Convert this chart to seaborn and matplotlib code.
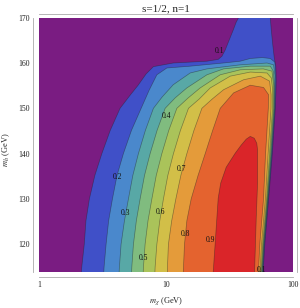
import numpy as np
import pandas as pd
import matplotlib
matplotlib.use("Agg")
import matplotlib.pyplot as plt
import seaborn as sns
from matplotlib.ticker import FixedLocator, FixedFormatter, NullFormatter

# ---------------- data ----------------
levels = [0.1, 0.2, 0.3, 0.4, 0.5, 0.6, 0.7, 0.8, 0.9]
band_colors = ["#7a1c82", "#4050c8", "#4a88cc", "#58a8a6", "#80bc7f",
               "#aac35a", "#d2bf48", "#e49b3a", "#e4632f", "#da2529"]

# contour lines: (m_chi [GeV], m_h [GeV]) along each iso-line
c01_mx = [2.14, 2.17, 2.27, 2.34, 2.49, 2.75, 3.12, 3.63, 4.34, 5.21, 6.02, 6.96, 7.94,
          11.36, 20.92, 25.67, 27.46, 29.15, 31.34, 33.7, 35.58, 37.1, 37.6, 66.0,
          65.9, 67.1, 68.95, 70.86, 72.8, 73.5, 72.2, 68.4, 64.0, 59.7, 57.7]
c01_mh = [113, 115, 120, 125.2, 130, 135.2, 140, 145.1, 150, 152.9, 155.1, 157.6, 159.2,
          160.0, 160.4, 160.8, 161.5, 162.9, 165.1, 167.3, 169.05, 170.0, 172, 172,
          170, 167.3, 164.0, 161.1, 159.3, 156.2, 150, 140, 130, 120, 113]

c02_mx = [3.22, 3.25, 3.37, 3.53, 3.78, 4.11, 4.61, 5.33, 6.36, 7.35, 8.45, 10.13, 15.45,
          28.11, 38.25, 45.86, 57.0, 65.9, 71.5, 72.6, 71.7, 67.9, 63.6, 59.3, 57.3]
c02_mh = [113, 115, 120, 125.2, 130, 135.2, 140, 145.1, 150, 154.0, 157.4, 158.9, 159.3,
          160.0, 160.4, 161.0, 161.2, 161.0, 160.2, 157.5, 150, 140, 130, 120, 113]

c03_mx = [4.25, 4.29, 4.42, 4.70, 5.05, 5.47, 6.05, 6.86, 7.94, 9.30, 11.36, 15.45, 20.92,
          38.25, 62.09, 69.96, 71.7, 71.2, 67.4, 63.2, 58.9, 56.9]
c03_mh = [113, 115, 120, 125.2, 130, 135.2, 140, 145.1, 150, 152.5, 155.2, 157.8, 158.7,
          159.6, 160.0, 159.6, 157.3, 150, 140, 130, 120, 113]

c04_mx = [5.33, 5.37, 5.53, 5.83, 6.24, 6.76, 7.48, 8.48, 9.82, 11.77, 14.55, 20.92, 28.27,
          45.86, 65.91, 69.58, 70.9, 70.6, 66.8, 62.8, 58.5, 56.5]
c04_mh = [113, 115, 120, 125.2, 130, 135.2, 140, 145.1, 150, 152.3, 154.5, 157.4, 158.7,
          159.3, 159.3, 158.2, 155, 150, 140, 130, 120, 113]

c05_mx = [6.58, 6.63, 6.83, 7.20, 7.72, 8.36, 9.25, 10.48, 12.14, 14.9, 18.52, 26.62,
          38.25, 58.04, 67.96, 70.0, 69.8, 66.0, 62.3, 58.0, 56.0]
c05_mh = [113, 115, 120, 125.2, 130, 135.2, 140, 145.1, 150, 152.3, 154.5, 157.4,
          158.5, 158.7, 158.2, 155, 150, 140, 130, 120, 113]

c06_mx = [8.13, 8.19, 8.45, 8.91, 9.52, 10.31, 11.41, 12.94, 14.98, 18.19, 22.21, 31.91,
          45.86, 62.09, 67.12, 68.8, 68.6, 65.0, 61.6, 57.3, 55.4]
c06_mh = [113, 115, 120, 125.2, 130, 135.2, 140, 145.1, 150, 152.05, 154.5, 157.1,
          158.0, 157.8, 156.7, 154, 150, 140, 130, 120, 113]

c07_mx = [10.2, 10.24, 10.42, 11.06, 11.92, 13.05, 14.55, 16.53, 19.10, 23.03, 28.27,
          40.61, 54.98, 65.08, 66.9, 66.8, 63.4, 60.4, 56.3, 54.5]
c07_mh = [113, 115, 120, 125.2, 130, 135.2, 140, 145.1, 150, 152.05, 154.1,
          156.3, 157.1, 156.0, 153, 150, 140, 130, 120, 113]

c08_mx = [13.6, 13.69, 13.94, 14.55, 15.73, 17.83, 20.28, 23.20, 26.62, 33.89, 45.86,
          58.35, 63.9, 63.6, 60.5, 58.3, 54.5, 53.0]
c08_mh = [113, 115, 120, 125.2, 130, 135.2, 140, 145.1, 150, 153.4, 155.1,
          154.6, 153.0, 150, 140, 130, 120, 113]

c09_mx = [23.3, 23.45, 24.31, 24.98, 25.67, 26.86, 29.68, 34.94, 38.96, 42.66, 45.86,
          49.3, 51.6, 52.36, 52.36, 51.13, 50.21, 49.57, 49.5]
c09_mh = [113, 113.9, 120.3, 125.3, 130.2, 133.5, 137.0, 140.1, 141.9, 143.2, 143.8,
          143.4, 142.3, 140.8, 133.5, 126.0, 118.8, 113.9, 113]

label_text = ["0.1", "0.4", "0.2", "0.3", "0.5", "0.7", "0.6", "0.8", "0.9", "0.1"]
label_mx = [26.3, 10.0, 4.11, 4.76, 6.63, 13.3, 8.97, 14.1, 22.5, 56.7]
label_mh = [162.7, 148.4, 134.9, 126.8, 116.9, 136.5, 127.2, 122.3, 120.9, 114.3]

x_major = [1, 10, 100]
x_major_labels = ["1", "10", "100"]
x_minor = [2, 3, 4, 5, 6, 7, 8, 9, 20, 30, 40, 50, 60, 70, 80, 90]
y_major = [120, 130, 140, 150, 160, 170]
y_minor = [114, 116, 118, 122, 124, 126, 128, 132, 134, 136, 138, 142, 144, 146,
           148, 152, 154, 156, 158, 162, 164, 166, 168]

curves = [(c01_mx, c01_mh), (c02_mx, c02_mh), (c03_mx, c03_mh), (c04_mx, c04_mh),
          (c05_mx, c05_mh), (c06_mx, c06_mh), (c07_mx, c07_mh), (c08_mx, c08_mh),
          (c09_mx, c09_mh)]

# ---------------- style ----------------
sns.set_style("white")
plt.rcParams["font.family"] = ["Liberation Serif", "DejaVu Serif"]
plt.rcParams["mathtext.fontset"] = "stix"

fig = plt.figure(figsize=(3.0, 3.08), dpi=100)
ax = fig.add_axes([0.13, 0.1159, 0.8477, 0.8266])
ax.set_xscale("log")
ax.set_facecolor(band_colors[0])

for i, (mx, mh) in enumerate(curves):
    ax.fill(mx, mh, color=band_colors[i + 1], lw=0, zorder=1 + i * 0.01)

for mx, mh in curves:
    df = pd.DataFrame({"mx": mx, "mh": mh})
    sns.lineplot(data=df, x="mx", y="mh", sort=False, estimator=None,
                 color="#222222", lw=0.5, alpha=0.45, ax=ax, zorder=3)

for t, xx, yy in zip(label_text, label_mx, label_mh):
    ax.text(xx, yy, t, fontsize=5.5, ha="center", va="center", color="#111111",
            zorder=4)

ax.set_xlim(1, 100)
ax.set_ylim(113.8, 170)

ax.xaxis.set_major_locator(FixedLocator(x_major))
ax.xaxis.set_major_formatter(FixedFormatter(x_major_labels))
ax.xaxis.set_minor_locator(FixedLocator(x_minor))
ax.xaxis.set_minor_formatter(NullFormatter())
ax.yaxis.set_major_locator(FixedLocator(y_major))
ax.yaxis.set_minor_locator(FixedLocator(y_minor))

ax.tick_params(which="both", direction="in", color="#999999", width=0.5,
               labelsize=5.6, labelcolor="#222222", top=False, right=False)
ax.tick_params(which="major", length=2.8)
ax.tick_params(which="minor", length=1.6)
ax.tick_params(axis="y", pad=2)
ax.tick_params(axis="x", pad=3)

sns.despine(ax=ax, top=False, right=False, left=False, bottom=False,
            offset={"left": 4.3, "bottom": 3.2, "top": 2.7, "right": 2.5})
for s in ax.spines.values():
    s.set_color("#aaaaaa")
    s.set_linewidth(0.6)

ax.set_xlabel(r"$m_\chi$ (GeV)", fontsize=6)
ax.set_ylabel(r"$m_h$ (GeV)", fontsize=6)
ax.xaxis.set_label_coords(0.5, -0.09)
ax.yaxis.set_label_coords(-0.105, 0.48)
ax.set_title("s=1/2, n=1", fontsize=8, pad=4.5)

fig.savefig("out.png", dpi=100)
